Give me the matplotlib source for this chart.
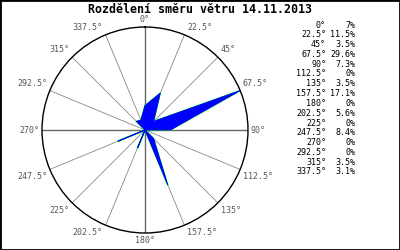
import numpy as np
import matplotlib
matplotlib.use("Agg")
from matplotlib import pyplot as plt
from matplotlib.patches import Rectangle

# wind direction (deg) and share of time (%)
directions = [0, 22.5, 45, 67.5, 90, 112.5, 135, 157.5,
              180, 202.5, 225, 247.5, 270, 292.5, 315, 337.5]
percent = [7, 11.5, 3.5, 29.6, 7.3, 0, 3.5, 17.1,
           0, 5.6, 0, 8.4, 0, 0, 3.5, 3.1]
title = "Rozdělení směru větru 14.11.2013"

mono = "DejaVu Sans Mono"

fig = plt.figure(figsize=(4, 2.5), dpi=100)
fig.patches.append(Rectangle((0, 0), 1, 1, transform=fig.transFigure,
                             fill=False, ec="black", lw=2))

ax = fig.add_axes([0.105, 0.068, 0.515, 0.824], projection="polar")
ax.set_theta_zero_location("N")
ax.set_theta_direction(-1)
rmax = max(percent)
ax.set_ylim(0, rmax)
ax.grid(False)
ax.set_xticks([])
ax.set_yticks([])
ax.spines["polar"].set_color("black")
ax.spines["polar"].set_linewidth(1)

theta = np.radians(directions)

# spokes
for d, t in zip(directions, theta):
    main = d % 90 == 0
    ax.plot([t, t], [0, rmax], color="#666666" if main else "#888888",
            lw=1.0 if main else 0.6, zorder=1)

# direction labels round the circle
for d, t in zip(directions, theta):
    s, c = np.sin(t), np.cos(t)
    ha = "center" if abs(s) < 0.01 else ("left" if s > 0 else "right")
    va = "center" if abs(c) < 0.01 else ("bottom" if c > 0 else "top")
    dx = 2 * np.sign(s) if abs(s) > 0.01 else 0
    dy = 2 * np.sign(c) if abs(c) > 0.01 else 0
    ax.annotate(f"{d:g}°", (t, rmax), xytext=(dx, dy), textcoords="offset points",
                ha=ha, va=va, fontsize=6, family=mono, color="#555555",
                annotation_clip=False)

# rose polygon: green outline underneath, blue fill on top
tt = np.append(theta, theta[0])
rr = np.append(percent, percent[0])
ax.plot(tt, rr, color="#00ff00", lw=1.0, zorder=2)
ax.fill(tt, rr, facecolor="#0000ff", edgecolor="#0000ff", lw=0.6, zorder=3)

fig.text(0.5, 0.962, title, ha="center", va="center", fontsize=8.4,
         family=mono, fontweight="bold")

# table of values
for i, (d, p) in enumerate(zip(directions, percent)):
    y = 1 - (25 + i * 9.8) / 250
    fig.text(326 / 400, y, f"{d:g}°", ha="right", va="center",
             fontsize=6, family=mono)
    fig.text(355 / 400, y, f"{p:g}%", ha="right", va="center",
             fontsize=6, family=mono)

fig.savefig("out.png", dpi=100)
